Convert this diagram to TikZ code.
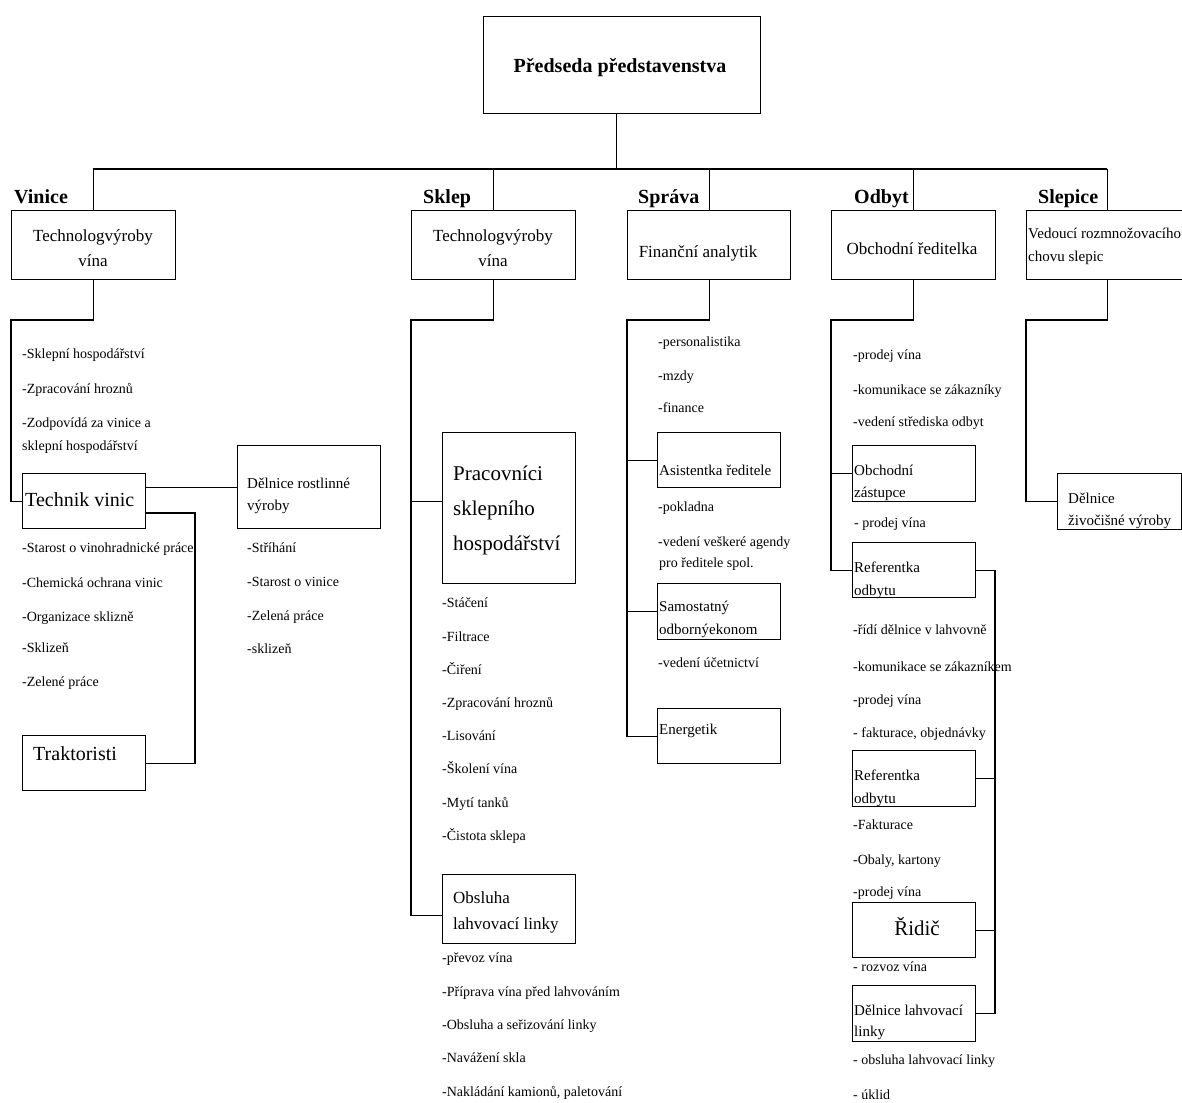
\documentclass[tikz,border=0pt]{standalone}
\usepackage{fontspec}
\setmainfont{Liberation Serif}
\begin{document}
\begin{tikzpicture}[x=1pt,y=-1pt,
  box/.style={draw, line width=1.3pt, inner sep=0pt, anchor=north west},
  conn/.style={line width=1.2pt},
  hdr/.style={font=\bfseries\fontsize{20}{24}\selectfont, anchor=base west, inner sep=0pt},
  lst/.style={font=\fontsize{14}{17}\selectfont, anchor=base west, inner sep=0pt},
  bt/.style={font=\fontsize{17}{20}\selectfont, anchor=base, inner sep=0pt},
  bs/.style={font=\fontsize{15}{18}\selectfont, anchor=base west, inner sep=0pt},
  bl/.style={font=\fontsize{20}{24}\selectfont, anchor=base west, inner sep=0pt}]
\useasboundingbox (0,0) rectangle (1182,1102);
\clip (0,0) rectangle (1182,1102);

% ---------- boxes ----------
\node[box, minimum width=277pt, minimum height=97pt] (pres) at (483,16) {};
\node[box, minimum width=164pt, minimum height=69pt] (vinT) at (11,210) {};
\node[box, minimum width=164pt, minimum height=69pt] (sklT) at (411,210) {};
\node[box, minimum width=163pt, minimum height=69pt] (sprT) at (627,210) {};
\node[box, minimum width=164pt, minimum height=69pt] (odbT) at (831,210) {};
\node[box, minimum width=162pt, minimum height=69pt] (sleT) at (1026,210) {};
\node[box, minimum width=123pt, minimum height=55pt] (tech) at (22,473) {};
\node[box, minimum width=143pt, minimum height=83pt] (delr) at (237,445) {};
\node[box, minimum width=123pt, minimum height=55pt] (trak) at (22,735) {};
\node[box, minimum width=133pt, minimum height=151pt] (prac) at (442,432) {};
\node[box, minimum width=133pt, minimum height=69pt] (obs) at (442,874) {};
\node[box, minimum width=123pt, minimum height=55pt] (asis) at (657,432) {};
\node[box, minimum width=123pt, minimum height=56pt] (samo) at (657,583) {};
\node[box, minimum width=123pt, minimum height=55pt] (ener) at (657,708) {};
\node[box, minimum width=123pt, minimum height=56pt] (obz) at (852,445) {};
\node[box, minimum width=123pt, minimum height=55pt] (ref1) at (852,542) {};
\node[box, minimum width=123pt, minimum height=56pt] (ref2) at (852,750) {};
\node[box, minimum width=123pt, minimum height=55pt] (ridic) at (852,902) {};
\node[box, minimum width=123pt, minimum height=56pt] (dell) at (852,985) {};
\node[box, minimum width=124pt, minimum height=56pt] (ziv) at (1057,473) {};

% ---------- connectors ----------
\coordinate (busL) at (93,169);
\coordinate (busR) at (1107,169);
\draw[conn] ([xshift=-5.5pt]pres.south) -- ([xshift=-5.5pt]pres.south |- busL);
\draw[conn] (busL) -- (busR);
\draw[conn] (vinT.north) -- (vinT.north |- busL);
\draw[conn] (sklT.north) -- (sklT.north |- busL);
\draw[conn] (sprT.north) -- (sprT.north |- busL);
\draw[conn] (odbT.north) -- (odbT.north |- busL);
\draw[conn] (sleT.north) -- (sleT.north |- busL);

\coordinate (vinJ) at (11,320);
\draw[conn] (vinT.south) |- (vinJ) |- (tech.west);
\draw[conn] (tech.east |- delr.west) -- (delr.west);
\coordinate (tk) at (195,513);
\draw[conn] (tech.east |- tk) -- (tk) |- (trak.east);

\coordinate (sklJ) at (411,320);
\coordinate (pracW) at ([yshift=7pt]prac.west);
\draw[conn] (sklT.south) |- (sklJ) |- ([yshift=-6pt]obs.west);
\draw[conn] (sklJ |- pracW) -- (pracW);

\coordinate (sprJ) at (627,320);
\draw[conn] (sprT.south) |- (sprJ) |- (ener.west);
\draw[conn] (sprJ |- asis.west) -- (asis.west);
\draw[conn] (sprJ |- samo.west) -- (samo.west);

\coordinate (odbJ) at (831,320);
\draw[conn] (odbT.south) |- (odbJ) |- (ref1.west);
\draw[conn] (odbJ |- obz.west) -- (obz.west);
\coordinate (odbR) at (995,0);
\draw[conn] (ref1.east) -| (odbR |- dell.east) -- (dell.east);
\draw[conn] (ref2.east) -- (odbR |- ref2.east);
\draw[conn] (ridic.east) -- (odbR |- ridic.east);

\coordinate (sleJ) at (1026,320);
\draw[conn] (sleT.south) |- (sleJ) |- (ziv.west);

% ---------- headers ----------
\node[font=\bfseries\fontsize{20}{24}\selectfont, anchor=base, inner sep=0pt] (presT) at (620,73) {Předseda představenstva};
\node[hdr] (hVin) at (14,203) {Vinice};
\node[hdr] (hSkl) at (423,203) {Sklep};
\node[hdr] (hSpr) at (638,203) {Správa};
\node[hdr] (hOdb) at (854,203) {Odbyt};
\node[hdr] (hSle) at (1038,203) {Slepice};

% ---------- box texts ----------
\node[bt] (vinT1) at (93,241) {Technologvýroby};
\node[bt] (vinT2) at (93,266) {vína};
\node[bt] (sklT1) at (493,241) {Technologvýroby};
\node[bt] (sklT2) at (493,266) {vína};
\node[bt] (sprT1) at (698,257) {Finanční analytik};
\node[bt] (odbT1) at (912,254) {Obchodní ředitelka};
\node[bs] (sleT1) at (1028,238) {Vedoucí rozmnožovacího};
\node[bs] (sleT2) at (1028,261) {chovu slepic};

\node[bl] (tech1) at (25,506) {Technik vinic};
\node[bs] (delr1) at (247,488) {Dělnice rostlinné};
\node[bs] (delr2) at (247,510) {výroby};
\node[bl] (trak1) at (33,760) {Traktoristi};

\node[font=\fontsize{21}{24}\selectfont, anchor=base west, inner sep=0pt] (prac1) at (453,480) {Pracovníci};
\node[font=\fontsize{21}{24}\selectfont, anchor=base west, inner sep=0pt] (prac2) at (453,515) {sklepního};
\node[font=\fontsize{21}{24}\selectfont, anchor=base west, inner sep=0pt] (prac3) at (453,550) {hospodářství};
\node[font=\fontsize{17}{20}\selectfont, anchor=base west, inner sep=0pt] (obs1) at (453,903) {Obsluha};
\node[font=\fontsize{17}{20}\selectfont, anchor=base west, inner sep=0pt] (obs2) at (453,929) {lahvovací linky};

\node[bs] (asis1) at (659,475) {Asistentka ředitele};
\node[bs] (samo1) at (659,611) {Samostatný};
\node[bs] (samo2) at (659,634) {odbornýekonom};
\node[bs] (ener1) at (659,734) {Energetik};

\node[bs] (obz1) at (854,475) {Obchodní};
\node[bs] (obz2) at (854,497) {zástupce};
\node[bs] (ref11) at (854,572) {Referentka};
\node[bs] (ref12) at (854,595) {odbytu};
\node[bs] (ref21) at (854,780) {Referentka};
\node[bs] (ref22) at (854,803) {odbytu};
\node[font=\fontsize{21}{24}\selectfont, anchor=base, inner sep=0pt] (ridic1) at (917,935) {Řidič};
\node[bs] (dell1) at (854,1015) {Dělnice lahvovací};
\node[bs] (dell2) at (854,1036) {linky};
\node[bs] (ziv1) at (1068,503) {Dělnice};
\node[bs] (ziv2) at (1068,525) {živočišné výroby};

% ---------- lists ----------
\node[lst] (v1) at (22,358) {-Sklepní hospodářství};
\node[lst] (v2) at (22,393) {-Zpracování hroznů};
\node[lst] (v3) at (22,427) {-Zodpovídá za vinice a};
\node[lst] (v4) at (22,450) {sklepní hospodářství};

\node[lst] (tv1) at (22,552) {-Starost o vinohradnické práce};
\node[lst] (tv2) at (22,587) {-Chemická ochrana vinic};
\node[lst] (tv3) at (22,621) {-Organizace sklizně};
\node[lst] (tv4) at (22,652) {-Sklizeň};
\node[lst] (tv5) at (22,686) {-Zelené práce};

\node[lst] (dr1) at (247,552) {-Stříhání};
\node[lst] (dr2) at (247,586) {-Starost o vinice};
\node[lst] (dr3) at (247,620) {-Zelená práce};
\node[lst] (dr4) at (247,653) {-sklizeň};

\node[lst] (pr1) at (442,607) {-Stáčení};
\node[lst] (pr2) at (442,641) {-Filtrace};
\node[lst] (pr3) at (442,674) {-Čiření};
\node[lst] (pr4) at (442,707) {-Zpracování hroznů};
\node[lst] (pr5) at (442,740) {-Lisování};
\node[lst] (pr6) at (442,773) {-Školení vína};
\node[lst] (pr7) at (442,807) {-Mytí tanků};
\node[lst] (pr8) at (442,840) {-Čistota sklepa};

\node[lst] (ob1) at (442,962) {-převoz vína};
\node[lst] (ob2) at (442,996) {-Příprava vína před lahvováním};
\node[lst] (ob3) at (442,1029) {-Obsluha a seřizování linky};
\node[lst] (ob4) at (442,1062) {-Navážení skla};
\node[lst] (ob5) at (442,1096) {-Nakládání kamionů, paletování};

\node[lst] (sp1) at (658,346) {-personalistika};
\node[lst] (sp2) at (658,380) {-mzdy};
\node[lst] (sp3) at (658,412) {-finance};
\node[lst] (as1) at (658,511) {-pokladna};
\node[lst] (as2) at (658,546) {-vedení veškeré agendy};
\node[lst] (as3) at (659,567) {pro ředitele spol.};
\node[lst] (sa1) at (658,667) {-vedení účetnictví};

\node[lst] (od1) at (853,359) {-prodej vína};
\node[lst] (od2) at (853,394) {-komunikace se zákazníky};
\node[lst] (od3) at (853,426) {-vedení střediska odbyt};
\node[lst] (oz1) at (854,527) {- prodej vína};
\node[lst] (r11) at (853,634) {-řídí dělnice v lahvovně};
\node[lst] (r12) at (853,671) {-komunikace se zákazníkem};
\node[lst] (r13) at (853,704) {-prodej vína};
\node[lst] (r14) at (853,737) {- fakturace, objednávky};
\node[lst] (r21) at (853,829) {-Fakturace};
\node[lst] (r22) at (853,864) {-Obaly, kartony};
\node[lst] (r23) at (853,896) {-prodej vína};
\node[lst] (ri1) at (853,971) {- rozvoz vína};
\node[lst] (dl1) at (853,1064) {- obsluha lahvovací linky};
\node[lst] (dl2) at (853,1099) {- úklid};
\end{tikzpicture}
\end{document}
